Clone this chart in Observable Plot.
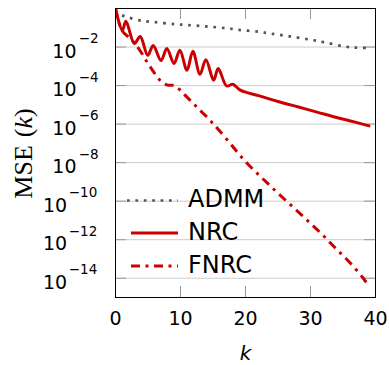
<!DOCTYPE html>
<html><head><meta charset="utf-8">
<script src="https://cdn.jsdelivr.net/npm/d3@7"></script>
<script src="https://cdn.jsdelivr.net/npm/@observablehq/plot@0.6"></script>
<style>html,body{margin:0;padding:0;background:#fff}#chart svg{display:block}</style>
</head><body><div id="chart"></div>
<script>
// ---- data ----
const admmK = [1, 2, 4, 6, 9, 11, 14, 17, 19, 22, 24, 27, 30, 32, 35, 37, 39];
const admmV = [4.4e-1, 3.4e-1, 2.3e-1, 1.95e-1, 1.55e-1, 1.4e-1, 1.17e-1, 9.5e-2, 7.8e-2, 6.2e-2, 4.9e-2, 3.5e-2, 2.4e-2, 1.8e-2, 1.1e-2, 9.3e-3, 9.0e-3];

const nrcK = [0, 1.05, 1.6, 2.9, 3.8, 4.96, 5.8, 7.0, 7.9, 9.0, 9.9, 11.0, 11.9, 13.0, 13.9, 15.1, 15.8, 17.1, 18.05, 19.2, 22, 25, 28, 31, 34, 36, 39];
const nrcV = [1.0, 7.2e-2, 2.2e-1, 1.5e-2, 3.5e-2, 3.7e-3, 1.2e-2, 2.0e-3, 8.3e-3, 1.4e-3, 6.8e-3, 6.3e-4, 6.0e-3, 3.9e-4, 2.2e-3, 1.9e-4, 7.6e-4, 9.5e-5, 1.17e-4, 5.8e-5, 3.0e-5, 1.5e-5, 7.9e-6, 4.2e-6, 2.2e-6, 1.5e-6, 8.1e-7];

const fnrcK = [0, 1, 2, 3, 4, 5, 6, 7, 8, 9, 10, 11, 12, 13, 14, 15, 16, 18, 20, 22, 24, 26, 28, 30, 32, 34, 36, 38, 39];
const fnrcV = [1.0, 7.2e-2, 3.3e-2, 1.5e-2, 5.0e-3, 1.4e-3, 4.4e-4, 1.66e-4, 1.05e-4, 1.0e-4, 5.6e-5, 2.5e-5, 1.15e-5, 5.2e-6, 2.5e-6, 1.07e-6, 4.5e-7, 7.1e-8, 1.12e-8, 2.4e-9, 5.4e-10, 1.26e-10, 3.0e-11, 7.1e-12, 1.6e-12, 3.2e-13, 6.8e-14, 1.12e-14, 3.8e-15];

const xTicks = [0, 10, 20, 30, 40];
const yTicks = [1e-14, 1e-12, 1e-10, 1e-8, 1e-6, 1e-4, 1e-2];
const yExps = ["−14", "−12", "−10", "−8", "−6", "−4", "−2"];
const seriesNames = ["ADMM", "NRC", "FNRC"];
const seriesColors = ["#555555", "#cc0000", "#cc0000"];
const seriesDash = ["2.7,5.7", null, "9,5.5,3,5.5"];

// ---- layout ----
const W = 389, H = 365, mL = 115, mR = 14, mT = 8, mB = 68;
const fw = W - mL - mR, fh = H - mT - mB;
const rows = (ks, vs) => ks.map((k, i) => ({k, v: vs[i]}));
const tickRows = yTicks.map((t, i) => ({t, e: yExps[i]}));
const oneDigit = tickRows.filter(d => d.e.length === 2);
const twoDigit = tickRows.filter(d => d.e.length === 3);
const FONT = "DejaVu Sans";

const plot = Plot.plot({
  width: W, height: H,
  marginLeft: mL, marginRight: mR, marginTop: mT, marginBottom: mB,
  style: {fontFamily: FONT, background: "white", color: "black"},
  x: {domain: [0, 40], axis: null},
  y: {type: "log", domain: [1e-15, 1], axis: null},
  marks: [
    Plot.ruleY(yTicks, {stroke: "#cccccc", strokeWidth: 1}),
    Plot.tickY(yTicks, {stroke: "#999", insetRight: fw - 11}),
    Plot.tickY(yTicks, {stroke: "#999", insetLeft: fw - 11}),
    Plot.tickX(xTicks.slice(1, -1), {stroke: "#999", insetTop: fh - 11}),
    Plot.tickX(xTicks.slice(1, -1), {stroke: "#999", insetBottom: fh - 11}),
    Plot.line(rows(admmK, admmV), {x: "k", y: "v", stroke: seriesColors[0], strokeWidth: 2.7, strokeDasharray: seriesDash[0], strokeLinecap: "butt", curve: "catmull-rom", clip: true}),
    Plot.line(rows(fnrcK, fnrcV), {x: "k", y: "v", stroke: seriesColors[2], strokeWidth: 3, strokeDasharray: seriesDash[2], strokeLinecap: "butt", curve: "catmull-rom", clip: true}),
    Plot.line(rows(nrcK, nrcV), {x: "k", y: "v", stroke: seriesColors[1], strokeWidth: 3, curve: "catmull-rom", clip: true}),
    Plot.frame({stroke: "black", strokeWidth: 1}),
    // x tick labels
    Plot.text(xTicks, {x: d => d, frameAnchor: "bottom", text: d => String(d), dy: 27, lineAnchor: "bottom", fontSize: 19}),
    // y tick labels: base and exponent
    Plot.text(oneDigit, {y: "t", frameAnchor: "left", text: () => "10", textAnchor: "end", dx: -39, dy: 10.6, lineAnchor: "bottom", fontSize: 19}),
    Plot.text(twoDigit, {y: "t", frameAnchor: "left", text: () => "10", textAnchor: "end", dx: -48.3, dy: 10.6, lineAnchor: "bottom", fontSize: 19}),
    Plot.text(oneDigit, {y: "t", frameAnchor: "left", text: "e", textAnchor: "start", dx: -36.7, dy: -4, lineAnchor: "bottom", fontSize: 13.5}),
    Plot.text(twoDigit, {y: "t", frameAnchor: "left", text: "e", textAnchor: "start", dx: -46.7, dy: -4, lineAnchor: "bottom", fontSize: 13.5}),
    // x axis label
    Plot.text(["k"], {frameAnchor: "bottom", text: d => d, dy: 62, lineAnchor: "bottom", fontSize: 20, fontStyle: "italic"})
  ]
});

const svg = d3.select(plot);
// y axis title
const yt = svg.append("text")
  .attr("transform", "translate(31.5,153.5) rotate(-90)")
  .attr("text-anchor", "middle")
  .attr("font-family", "Liberation Serif")
  .attr("font-size", 26)
  .attr("fill", "black");
yt.append("tspan").text("MSE");
yt.append("tspan").attr("dx", 8).text("(");
yt.append("tspan").attr("font-style", "italic").text("k");
yt.append("tspan").text(")");

// legend inside the frame, lower left
const lg = svg.append("g");
const rowY = [200.5, 233, 266];
seriesNames.forEach((name, i) => {
  const ln = lg.append("line")
    .attr("x1", i === 0 ? 127 : 131).attr("x2", 178)
    .attr("y1", rowY[i]).attr("y2", rowY[i])
    .attr("stroke", seriesColors[i])
    .attr("stroke-width", i === 0 ? 2.7 : 3);
  if (seriesDash[i]) ln.attr("stroke-dasharray", seriesDash[i]);
  lg.append("text")
    .attr("x", 188).attr("y", rowY[i] + 6.5)
    .attr("text-anchor", "start")
    .attr("font-family", FONT).attr("font-size", 24)
    .attr("fill", "black")
    .text(name);
});

document.getElementById("chart").appendChild(plot);
</script>
</body></html>
